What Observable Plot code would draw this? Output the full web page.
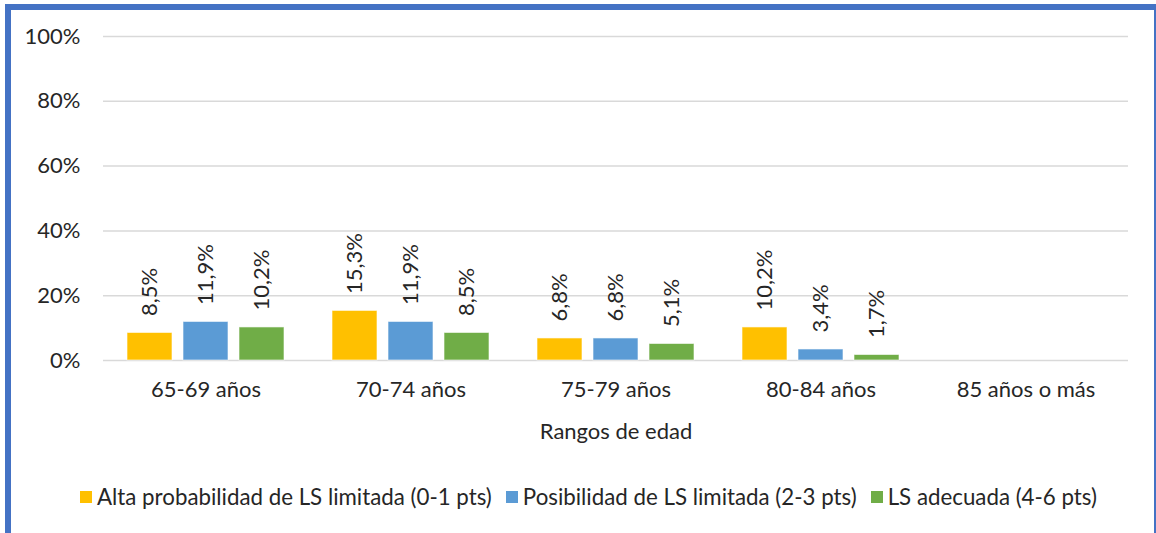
<!DOCTYPE html>
<html><head><meta charset="utf-8">
<script src="https://cdn.jsdelivr.net/npm/d3@7"></script>
<script src="https://cdn.jsdelivr.net/npm/@observablehq/plot@0.6"></script>
<style>
body{margin:0;background:#fff;}
#wrap{position:relative;width:1156px;height:533px;overflow:hidden;background:#fff;font-family:Lato,"Liberation Sans",sans-serif;}
#frame{position:absolute;left:5px;top:4px;right:0;height:600px;border-top:6px solid #4472C4;border-left:6px solid #4472C4;border-right:2px solid #4472C4;box-sizing:border-box;pointer-events:none;}
#chart{position:absolute;left:0;top:0;}
#legend{position:absolute;left:80px;top:485px;height:24px;display:flex;align-items:center;gap:14px;font-size:22.3px;line-height:24px;color:#262626;white-space:nowrap}
.item{display:flex;align-items:center;gap:5px}
.sw{width:12px;height:12px;display:inline-block}
</style></head><body>
<div id="wrap"><div id="chart"></div><div id="legend"></div><div id="frame"></div></div>
<script>
const categories = ["65-69 años", "70-74 años", "75-79 años", "80-84 años", "85 años o más"];
const seriesNames = ["Alta probabilidad de LS limitada (0-1 pts)", "Posibilidad de LS limitada (2-3 pts)", "LS adecuada (4-6 pts)"];
const altaValues = [8.5, 15.3, 6.8, 10.2, null];
const posibilidadValues = [11.9, 11.9, 6.8, 3.4, null];
const adecuadaValues = [10.2, 8.5, 5.1, 1.7, null];
const seriesColors = ["#FFC000", "#5B9BD5", "#70AD47"];
const yTicks = [0, 20, 40, 60, 80, 100];
const xTitle = "Rangos de edad";

const seriesValues = [altaValues, posibilidadValues, adecuadaValues];
const rows = [];
categories.forEach((cat, i) => {
  seriesNames.forEach((s, j) => {
    rows.push({cat, series: s, value: seriesValues[j][i]});
  });
});
const fmt = v => v == null ? null : v.toFixed(1).replace(".", ",") + "%";
const font = 'Lato, "Liberation Sans", sans-serif';

const chart = Plot.plot({
  width: 1156,
  height: 460,
  marginLeft: 102,
  marginRight: 28,
  marginTop: 36,
  marginBottom: 100,
  style: {fontFamily: font, fontSize: "22px", color: "#262626", background: "transparent"},
  fx: {domain: categories, paddingInner: 0, paddingOuter: 0, axis: null},
  x: {domain: seriesNames, paddingInner: 0.193, paddingOuter: 0.397, axis: null},
  y: {domain: [0, 100], axis: null},
  color: {domain: seriesNames, range: seriesColors},
  marks: [
    Plot.gridY(yTicks, {stroke: "#D9D9D9", strokeOpacity: 1, strokeWidth: 1.5}),
    Plot.axisY(yTicks, {tickSize: 0, tickPadding: 23, tickFormat: d => d + "%", label: null}),
    Plot.axisFx({anchor: "bottom", tickSize: 0, tickPadding: 21, label: xTitle, labelAnchor: "center", labelOffset: 78}),
    Plot.barY(rows, {fx: "cat", x: "series", y: "value", fill: "series", stroke: "#ffffff", strokeOpacity: 0.6, strokeWidth: 1}),
    Plot.text(rows, {fx: "cat", x: "series", y: "value", text: d => fmt(d.value), rotate: -90, textAnchor: "start", lineAnchor: "middle", dy: -17, fill: "#262626"})
  ]
});
document.getElementById("chart").appendChild(chart);

const legend = document.getElementById("legend");
seriesNames.forEach((s, j) => {
  const it = document.createElement("div");
  it.className = "item";
  const sw = document.createElement("span");
  sw.className = "sw";
  sw.style.background = seriesColors[j];
  const t = document.createElement("span");
  t.textContent = s;
  it.appendChild(sw);
  it.appendChild(t);
  legend.appendChild(it);
});
</script>
</body></html>
